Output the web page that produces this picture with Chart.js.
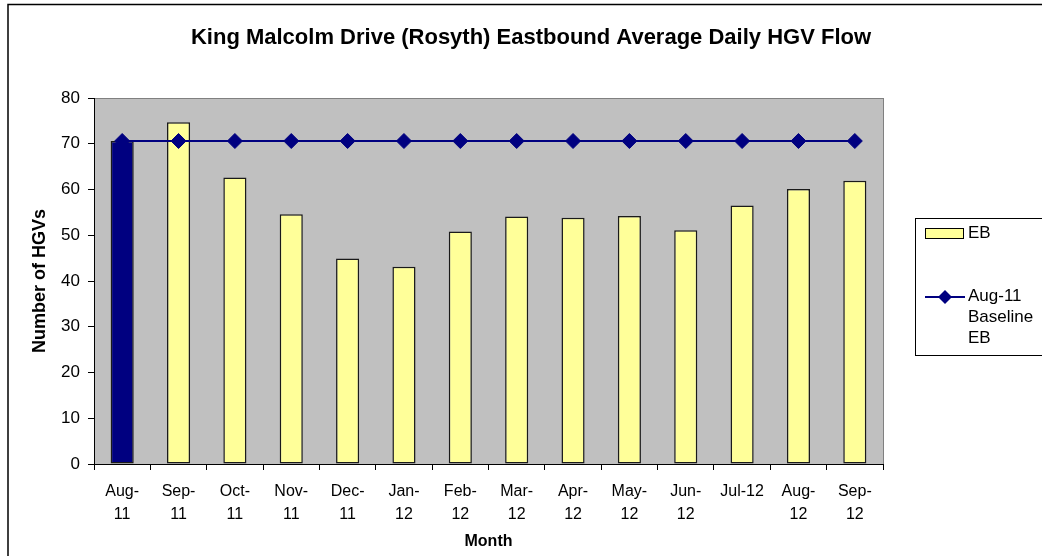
<!DOCTYPE html>
<html>
<head>
<meta charset="utf-8">
<script src="https://cdn.jsdelivr.net/npm/chart.js@4/dist/chart.umd.min.js"></script>
<style>
  html, body { margin: 0; padding: 0; background: #fff; }
  #wrap { width: 1042px; height: 556px; position: relative; }
</style>
</head>
<body>
<div id="wrap"><canvas id="myChart"></canvas></div>
<script>
// Chart data
// --------------------------------------------
const chartTitle = 'King Malcolm Drive (Rosyth) Eastbound Average Daily HGV Flow'
const months = [['Aug-', '11'], ['Sep-', '11'], ['Oct-', '11'], ['Nov-', '11'], ['Dec-', '11'],
    ['Jan-', '12'], ['Feb-', '12'], ['Mar-', '12'], ['Apr-', '12'], ['May-', '12'],
    ['Jun-', '12'], 'Jul-12', ['Aug-', '12'], ['Sep-', '12']]
const eb = [70.6, 74.7, 62.6, 54.6, 44.9, 43.1, 50.8, 54.1, 53.8, 54.2, 51.1, 56.5, 60.1, 61.9]
const baseline = [70.6, 70.6, 70.6, 70.6, 70.6, 70.6, 70.6, 70.6, 70.6, 70.6, 70.6, 70.6, 70.6, 70.6]
const yTicks = [0, 10, 20, 30, 40, 50, 60, 70, 80]

const font = 'Arial, "Liberation Sans", sans-serif'
const navy = '#000080'
const yellow = '#FFFF99'

// Gray plot area, outer frame and title
// --------------------------------------------
const backdrop = {
    id: 'backdrop',
    beforeDraw(chart) {
        const { ctx, chartArea: a } = chart
        ctx.save()
        ctx.fillStyle = '#C0C0C0'
        ctx.fillRect(a.left, a.top, a.right - a.left, a.bottom - a.top)
        ctx.strokeStyle = '#808080'
        ctx.lineWidth = 1
        ctx.strokeRect(a.left + 0.5, a.top + 0.5, a.right - a.left, a.bottom - a.top)
        ctx.strokeStyle = '#000'
        ctx.lineWidth = 1.5
        ctx.strokeRect(8, 4.5, 1100, 700)

        ctx.fillStyle = '#000'
        ctx.font = 'bold 22px ' + font
        ctx.textAlign = 'center'
        ctx.textBaseline = 'middle'
        ctx.fillText(chartTitle, 531, 38)
        ctx.restore()
    }
}

// Excel style legend box
// --------------------------------------------
const boxLegend = {
    id: 'boxLegend',
    afterDraw(chart) {
        const ctx = chart.ctx
        const bars = chart.data.datasets.find(d => d.type !== 'line')
        const line = chart.data.datasets.find(d => d.type === 'line')
        ctx.save()
        ctx.fillStyle = '#fff'
        ctx.fillRect(915, 218, 140, 137)
        ctx.strokeStyle = '#000'
        ctx.lineWidth = 1
        ctx.strokeRect(915.5, 218.5, 140, 137)

        // bar item
        ctx.fillStyle = yellow
        ctx.fillRect(925.5, 228.5, 38, 10)
        ctx.strokeRect(925.5, 228.5, 38, 10)
        ctx.fillStyle = '#000'
        ctx.font = '17px ' + font
        ctx.textBaseline = 'middle'
        ctx.fillText(bars.label, 968, 233)

        // line item
        ctx.strokeStyle = navy
        ctx.lineWidth = 2
        ctx.beginPath()
        ctx.moveTo(925, 297)
        ctx.lineTo(965, 297)
        ctx.stroke()
        ctx.fillStyle = navy
        ctx.beginPath()
        ctx.moveTo(945, 290)
        ctx.lineTo(952, 297)
        ctx.lineTo(945, 304)
        ctx.lineTo(938, 297)
        ctx.closePath()
        ctx.fill()
        ctx.fillStyle = '#000'
        line.label.split('\n').forEach((t, i) => ctx.fillText(t, 968, 296 + i * 21))
        ctx.restore()
    }
}

// Plots the chart
// --------------------------------------------
const ctx = document.getElementById('myChart').getContext('2d')
const myChart = new Chart(ctx, {
    type: 'bar',
    data: {
        labels: months,
        datasets: [{
            type: 'line',
            label: 'Aug-11\nBaseline\nEB',
            data: baseline,
            borderColor: navy,
            borderWidth: 2,
            pointStyle: 'rectRot',
            pointRadius: 7.5,
            pointBackgroundColor: navy,
            pointBorderColor: navy,
            pointBorderWidth: 1,
            order: 1
        }, {
            type: 'bar',
            label: 'EB',
            data: eb,
            backgroundColor: eb.map((v, i) => i === 0 ? navy : yellow),
            borderColor: '#1a1a1a',
            borderWidth: 1.5,
            borderSkipped: false,
            barPercentage: 0.41,
            categoryPercentage: 1,
            order: 2
        }]
    },
    options: {
        responsive: true,
        maintainAspectRatio: false,
        animation: false,
        layout: { padding: { left: 0, right: 159, top: 98, bottom: 0 } },
        plugins: {
            legend: { display: false },
            tooltip: { enabled: false },
            title: { display: false }
        },
        scales: {
            x: {
                offset: true,
                grid: { display: true, offset: true, drawOnChartArea: false, tickLength: 6, color: '#000' },
                border: { display: true, color: '#000', width: 1 },
                ticks: { color: '#000', font: { family: font, size: 16, lineHeight: '23px' }, padding: 10, maxRotation: 0, autoSkip: false },
                title: { display: true, text: 'Month', color: '#000', font: { family: font, size: 16, weight: 'bold' }, padding: { top: 0, bottom: 5 } },
                afterFit: s => { s.height = 92 }
            },
            y: {
                min: 0,
                max: 80,
                afterBuildTicks: s => { s.ticks = yTicks.map(v => ({ value: v })) },
                grid: { display: true, drawOnChartArea: false, tickLength: 6, color: '#000' },
                border: { display: true, color: '#000', width: 1 },
                ticks: { color: '#000', font: { family: font, size: 17 }, padding: 8 },
                title: { display: true, text: 'Number of HGVs', color: '#000', font: { family: font, size: 18, weight: 'bold' }, padding: { top: 29, bottom: 0 } },
                afterFit: s => { s.width = 94 }
            }
        }
    },
    plugins: [backdrop, boxLegend]
})
</script>
</body>
</html>
